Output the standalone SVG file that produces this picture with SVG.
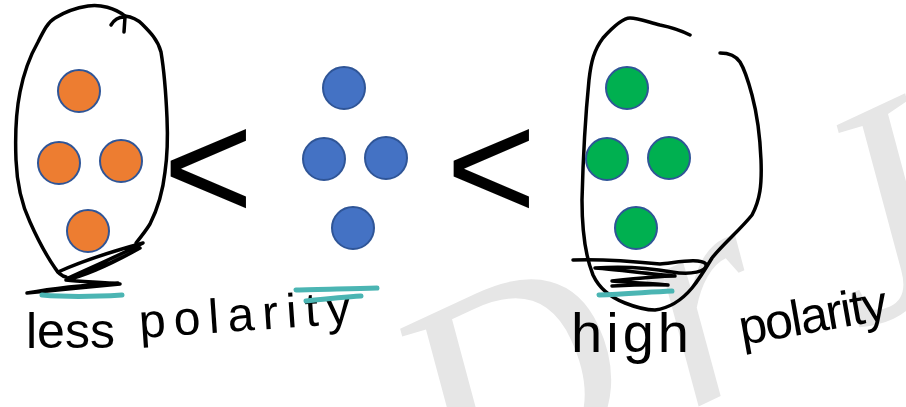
<svg xmlns="http://www.w3.org/2000/svg" width="906" height="407" viewBox="0 0 906 407">
  <style>
    .ink { fill: none; stroke: #000; stroke-width: 3.5; stroke-linecap: round; stroke-linejoin: round; }
    .teal { fill: none; stroke: #4bb5b3; stroke-width: 5; stroke-linecap: round; }
    .ball { stroke: #2f5597; stroke-width: 2; }
    .orange { fill: #ed7d31; }
    .blue { fill: #4472c4; }
    .green { fill: #00b050; }
    .lt { font-family: "Liberation Sans", Arial, sans-serif; font-size: 155px; fill: #000; }
    .hand { font-family: "Liberation Sans", Arial, sans-serif; fill: #000; }
    .mark { font-family: "Liberation Serif", "Times New Roman", serif; font-style: italic; font-size: 300px; fill: #e6e6e6; }
  </style>

  <rect width="906" height="407" fill="#fff"/>

  <!-- background watermark -->
  <text class="mark" transform="translate(455,520) rotate(-25)">D<tspan dx="40">r</tspan><tspan dx="70">J</tspan></text>

  <!-- less polar group -->
  <g id="less-polar">
    <path class="ink" d="M125,16 C132,17 138,20 142,24 C150,32 158,40 161,52 C164,70 166,95 167,118 C168,140 167,158 165,172 C163,190 158,208 150,224 C145,232 140,238 136,243 M124,32 L125,17 M111,25 C114,20 118,17 124,17"/>
    <path class="ink" d="M125,16 C115,8 100,4 88,6 C75,8 63,13 55,18 C48,22 44,30 38,42 C30,56 24,72 20,92 C16,112 15,135 16,160 C17,185 22,205 30,222 C38,240 46,255 55,268 C58,273 62,276 66,277"/>
    <circle class="ball orange" cx="79" cy="91" r="21"/>
    <circle class="ball orange" cx="59" cy="163" r="21"/>
    <circle class="ball orange" cx="121" cy="161" r="21"/>
    <circle class="ball orange" cx="88" cy="231" r="21"/>
    <!-- scribble under the oval -->
    <path class="ink" d="M58,272 C80,262 110,252 143,243 C120,255 95,266 68,278 C90,272 115,262 140,248 C115,262 88,275 66,280 C80,282 100,282 120,284 C90,287 55,290 27,293 C55,288 85,285 118,283"/>
    <path class="teal" d="M42,295 C65,297 90,297 122,295"/>
    <text class="hand" font-size="50" x="26" y="348">less</text>
    <text class="hand" font-size="48" transform="translate(140,338) rotate(-4)" textLength="212" lengthAdjust="spacing">polarity</text>
  </g>

  <!-- comparison signs -->
  <g id="sign-1"><text class="lt" x="163" y="220">&lt;</text></g>
  <g id="sign-2"><text class="lt" x="446" y="220">&lt;</text></g>

  <!-- medium polar group -->
  <g id="medium-polar">
    <circle class="ball blue" cx="344" cy="88" r="21"/>
    <circle class="ball blue" cx="324" cy="159" r="21"/>
    <circle class="ball blue" cx="386" cy="158" r="21"/>
    <circle class="ball blue" cx="353" cy="228" r="21"/>
    <path class="teal" d="M296,290 C320,289 350,289 377,288 M306,301 C325,299 345,297 361,296"/>
  </g>

  <!-- high polar group -->
  <g id="high-polar">
    <path class="ink" d="M690,35 C680,30 670,27 660,25 C648,22 638,18 630,18 C622,18 612,28 603,38 C594,50 591,62 589,80 C585,120 583,160 582,200 C582,230 585,255 593,275 C600,290 612,298 625,303 C635,307 645,310 655,310 C670,308 682,300 692,288 C700,278 706,268 712,258 C722,245 740,230 752,215 C760,200 762,185 761,160 C760,135 756,110 752,95 C748,80 745,70 740,62 C736,56 730,53 720,53"/>
    <circle class="ball green" cx="627" cy="88" r="21"/>
    <circle class="ball green" cx="607" cy="159" r="21"/>
    <circle class="ball green" cx="669" cy="158" r="21"/>
    <circle class="ball green" cx="636" cy="228" r="21"/>
    <!-- scribble under the oval -->
    <path class="ink" d="M573,260 C600,259 630,261 660,264 C680,262 700,258 706,264 C708,272 690,275 672,272 C650,268 625,266 595,268 C620,270 650,274 675,276 C660,276 640,278 612,281 C630,283 650,283 668,285 C650,284 630,285 612,286"/>
    <path class="teal" d="M599,295 C625,294 650,292 672,291"/>
    <text class="hand" font-size="56" x="571" y="352" textLength="118" lengthAdjust="spacing">high</text>
    <text class="hand" font-size="50" transform="translate(742,345) rotate(-10)" textLength="150" lengthAdjust="spacing">polarity</text>
  </g>
</svg>
